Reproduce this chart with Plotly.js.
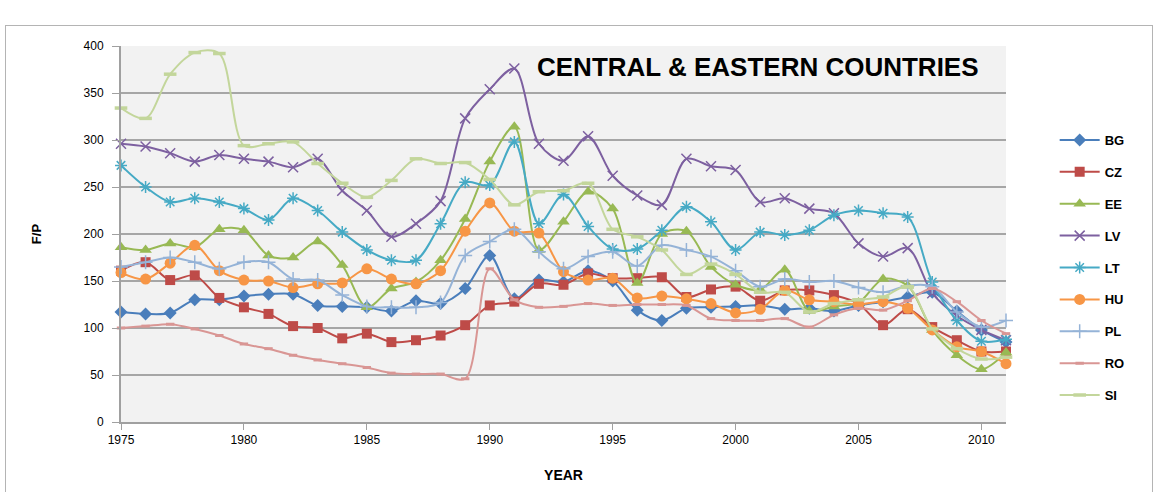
<!DOCTYPE html>
<html>
<head>
<meta charset="utf-8">
<script src="https://cdn.plot.ly/plotly-3.0.1.min.js"></script>
<style>
  html, body { margin: 0; padding: 0; background: #ffffff; }
  #frame { position: absolute; left: 5px; top: 25px; width: 1148px; height: 500px; border: 1px solid #b4b4b4; box-sizing: border-box; }
  #chart { position: absolute; left: 0; top: 0; width: 1159px; height: 492px; }
</style>
</head>
<body>
<div id="frame"></div>
<div id="chart"></div>
<script>
const years = [1975,1976,1977,1978,1979,1980,1981,1982,1983,1984,1985,1986,1987,1988,1989,1990,1991,1992,1993,1994,1995,1996,1997,1998,1999,2000,2001,2002,2003,2004,2005,2006,2007,2008,2009,2010,2011];

const BG = [117,115,116,130,130,134,136,136,124,123,122,118,129,126,142,177,131,151,149,161,150,119,108,121,122,123,124,120,121,118,124,128,133,138,118,98,85];
const CZ = [161,170,151,156,132,122,115,102,100,89,94,85,87,92,103,124,128,147,146,158,153,153,154,133,141,144,129,140,140,135,126,103,120,101,87,75,75];
const EE = [186,183,190,186,205,204,177,175,192,167,122,142,149,172,216,277,314,183,213,245,227,148,200,203,165,146,141,162,118,123,127,152,145,98,71,56,74];
const LV = [296,293,286,277,284,280,277,271,280,246,225,197,211,235,323,354,376,296,278,304,262,241,231,280,272,268,234,238,227,222,190,176,185,137,113,98,87];
const LT = [273,250,234,238,234,227,215,238,225,202,183,172,172,211,255,252,298,211,242,208,184,184,204,229,213,183,202,199,204,220,225,222,218,149,108,86,88];
const HU = [159,152,169,188,161,151,150,143,147,148,163,152,147,161,203,233,203,201,160,151,153,132,134,131,126,116,120,140,130,128,125,128,121,98,80,75,62];
const PL = [165,170,175,170,163,170,170,152,151,135,123,122,122,127,177,192,205,181,163,176,181,166,188,183,176,161,144,152,149,150,143,138,145,144,117,101,108];
const RO = [100,102,104,99,92,83,78,71,66,62,58,52,51,51,46,163,130,122,123,126,124,125,125,124,110,108,108,110,101,114,121,119,129,142,128,108,94];
const SI = [334,323,370,393,392,294,296,298,275,254,239,257,280,275,276,258,231,245,246,254,205,197,183,157,168,157,138,138,117,126,130,133,144,99,78,67,69];

const seriesNames = ['BG','CZ','EE','LV','LT','HU','PL','RO','SI'];
const seriesData = [BG, CZ, EE, LV, LT, HU, PL, RO, SI];
const colors = ['#4a7ebb','#be4b48','#98b954','#7d60a0','#46aac5','#f79646','#95b3d7','#d99694','#c3d69b'];
const symbols = ['diamond','square','triangle-up','x-thin-open','asterisk-open','circle','cross-thin-open','line-ew-open','line-ew-open'];
const sizes = [10,10,11,10,10,11,10,6,9];
const markerLineWidths = [0,0,0,1.5,1.5,0,1.5,3,3.5];

const traces = seriesNames.map((name, i) => ({
  type: 'scatter',
  mode: 'lines+markers',
  name: name,
  legendgroup: name,
  x: years,
  y: seriesData[i],
  cliponaxis: false,
  line: { color: colors[i], width: 2, shape: 'spline', smoothing: 0.9 },
  marker: {
    symbol: symbols[i],
    size: sizes[i],
    color: colors[i],
    line: { color: colors[i], width: markerLineWidths[i] }
  }
}));

const font = "'Liberation Sans', Arial, sans-serif";

const layout = {
  width: 1159,
  height: 492,
  margin: { l: 121, r: 153, t: 46, b: 70 },
  paper_bgcolor: 'rgba(0,0,0,0)',
  plot_bgcolor: '#f2f2f2',
  font: { family: font, size: 11, color: '#000000' },
  showlegend: true,
  legend: {
    x: 1.055, xanchor: 'left',
    y: 0.79, yanchor: 'top',
    bgcolor: 'rgba(0,0,0,0)',
    font: { family: font, size: 13, color: '#000000', weight: 'bold' },
    itemwidth: 40,
    tracegroupgap: 12
  },
  xaxis: {
    range: [1975, 2011],
    tick0: 1975,
    dtick: 5,
    showgrid: false,
    zeroline: false,
    showline: true,
    linecolor: '#a0a0a0',
    linewidth: 2,
    ticks: 'outside',
    ticklen: 6,
    tickwidth: 1,
    tickcolor: '#a0a0a0',
    tickfont: { family: font, size: 12, color: '#000000' },
    title: { text: '<b>YEAR</b>', font: { family: font, size: 14, color: '#000000' }, standoff: 24 }
  },
  yaxis: {
    range: [0, 400],
    dtick: 50,
    showgrid: true,
    gridcolor: '#a6a6a6',
    gridwidth: 2,
    zeroline: false,
    showline: true,
    linecolor: '#a0a0a0',
    linewidth: 2,
    ticks: 'outside',
    ticklen: 7,
    tickwidth: 1,
    tickcolor: '#a0a0a0',
    ticklabelstandoff: 6,
    tickfont: { family: font, size: 12, color: '#000000' },
    title: { text: '<b>F/P</b>', font: { family: font, size: 13, color: '#000000' }, standoff: 39 }
  },
  annotations: [{
    text: '<b>CENTRAL &amp; EASTERN COUNTRIES</b>',
    xref: 'paper', yref: 'paper',
    x: 0.72, y: 0.943,
    xanchor: 'center', yanchor: 'middle',
    showarrow: false,
    font: { family: font, size: 26, color: '#000000' }
  }]
};

Plotly.newPlot('chart', traces, layout, { displayModeBar: false, staticPlot: true });
</script>
</body>
</html>
